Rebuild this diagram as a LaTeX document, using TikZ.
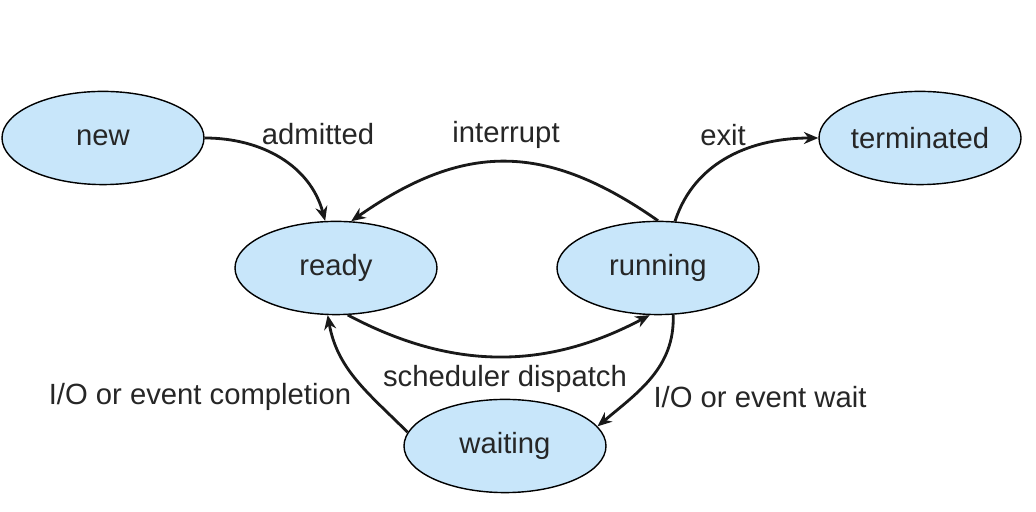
\documentclass[tikz,border=0pt]{standalone}
\usepackage{fontspec}
\setmainfont{Liberation Sans}
\usetikzlibrary{shapes.geometric,arrows.meta}
\definecolor{stblue}{RGB}{200,230,250}
\begin{document}
\begin{tikzpicture}
    \tikzset{st/.style={ellipse, draw, fill=stblue, line width=1pt, minimum width=5.05cm, minimum height=2.33cm, inner sep=0pt, font=\fontsize{20.8}{25}\selectfont, text=black!85},
             lbl/.style={inner sep=0pt, font=\fontsize{20.8}{25}\selectfont, text=black!85},
             tr/.style={-{Stealth[length=3.6mm,width=3mm]}, line width=2pt, black!90}}
    \useasboundingbox (0,0) rectangle (25.9,12.8);

    % ---- States ----
    \node[st] (new) at (2.575,9.35) {new};
    \node[st] (ready) at (8.4,6.1) {ready};
    \node[st] (running) at (16.45,6.1) {running};
    \node[st] (term) at (23.0,9.35) {terminated};
    \node[st] (wait) at (12.625,1.65) {waiting};

    % ---- Labels ----
    \node[lbl] (ladm) at (7.95,9.45) {admitted};
    \node[lbl] (lint) at (12.65,9.42) {interrupt};
    \node[lbl] (lexit) at (18.075,9.42) {exit};
    \node[lbl] (lsched) at (12.625,3.33) {scheduler dispatch};
    \node[lbl] (lcomp) at (5.0,2.88) {I/O or event completion};
    \node[lbl] (lwait) at (19.0,2.88) {I/O or event wait};

    % ---- Transitions ----
    \draw[tr] (new.east) to[out=0, in=105] (ready.103);
    \draw[tr] (running.north) to[out=145, in=35, looseness=1.15] (ready.72);
    \draw[tr] (running.70) to[out=72, in=180] (term.west);
    \draw[tr] (ready.-76) to[out=-28, in=-152] (running.-100);
    \draw[tr] (running.-72) to[out=-88, in=40] (wait.12);
    \draw[tr] (wait.172) to[out=135, in=-80] (ready.-100);
\end{tikzpicture}
\end{document}
